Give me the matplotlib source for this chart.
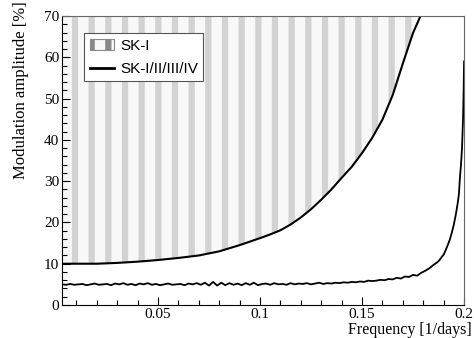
import numpy as np
import matplotlib
matplotlib.use('Agg')
import matplotlib.pyplot as plt
from matplotlib.patches import Patch
from matplotlib.lines import Line2D
from matplotlib.ticker import MultipleLocator, FixedLocator

# SK-I exclusion curve (region above is excluded)
ski_freq = [0.003, 0.01, 0.02, 0.03, 0.04, 0.05, 0.06, 0.07, 0.08, 0.09,
            0.10, 0.105, 0.11, 0.115, 0.12, 0.125, 0.13, 0.135, 0.14, 0.145,
            0.15, 0.155, 0.16, 0.165, 0.17, 0.175, 0.18]
ski_amp = [10.0, 10.0, 10.0, 10.2, 10.5, 10.9, 11.4, 12.0, 13.0, 14.5,
           16.2, 17.1, 18.1, 19.5, 21.2, 23.2, 25.5, 28.0, 30.8, 33.5,
           36.8, 40.5, 44.9, 50.8, 58.5, 65.9, 71.5]

# SK-I/II/III/IV, flat noisy part sampled every 0.002 from 0.003 to 0.185
all_amp_flat = [5.0, 4.9, 5.1, 4.9, 5.0, 5.1, 4.8, 5.0, 5.2, 4.9,
                5.0, 5.1, 4.8, 5.2, 5.0, 5.3, 4.9, 5.1, 4.8, 5.2,
                5.0, 5.3, 4.9, 5.1, 4.8, 5.0, 5.2, 4.9, 5.0, 5.1,
                4.8, 5.2, 5.0, 5.3, 4.9, 5.4, 4.7, 5.6, 4.7, 5.4,
                4.8, 5.3, 4.9, 5.2, 4.8, 5.3, 4.9, 5.4, 4.8, 5.1,
                5.2, 4.9, 5.3, 5.0, 5.1, 4.9, 5.3, 5.0, 5.2, 5.1,
                5.3, 5.0, 5.2, 5.4, 5.1, 5.3, 5.2, 5.4, 5.3, 5.5,
                5.4, 5.6, 5.5, 5.7, 5.6, 5.9, 5.8, 5.9, 6.1, 6.0,
                6.3, 6.2, 6.6, 6.4, 6.9, 6.8, 7.3, 7.1, 7.8, 8.3,
                8.9, 9.7]
all_freq_flat = np.linspace(0.003, 0.185, len(all_amp_flat))

# steep rise near 0.2 1/day
all_freq_tail = [0.187, 0.188, 0.189, 0.190, 0.191, 0.192, 0.193, 0.194,
                 0.195, 0.196, 0.197, 0.1975, 0.198, 0.1985, 0.199, 0.1995,
                 0.1998, 0.2]
all_amp_tail = [10.4, 10.9, 11.6, 12.2, 13.3, 14.5, 15.8, 17.5,
                19.5, 22.0, 25.0, 27.0, 31.0, 34.0, 38.0, 45.0,
                52.0, 59.0]

all_freq = np.concatenate([all_freq_flat, all_freq_tail])
all_amp = np.concatenate([all_amp_flat, all_amp_tail])

plt.rcParams['font.family'] = 'Liberation Serif'
plt.rcParams['hatch.linewidth'] = 4.5

fig = plt.figure(figsize=(4.74, 3.38), dpi=100)
ax = fig.add_axes([0.131, 0.0976, 0.848, 0.855])

hatch_col = '#d2d2d2'
ax.fill_between(ski_freq, ski_amp, 80, facecolor='#f8f8f8', edgecolor=hatch_col,
                hatch='|', linewidth=0)
ax.plot(ski_freq, ski_amp, color='black', lw=1.5)
ax.plot(all_freq, all_amp, color='black', lw=1.3)

ax.set_xlim(0.003, 0.2)
ax.set_ylim(0, 70)
ax.xaxis.set_major_locator(FixedLocator([0.05, 0.1, 0.15, 0.2]))
ax.set_xticklabels(['0.05', '0.1', '0.15', '0.2'])
ax.xaxis.set_minor_locator(MultipleLocator(0.01))
ax.yaxis.set_major_locator(MultipleLocator(10))
ax.yaxis.set_minor_locator(MultipleLocator(2))
ax.tick_params(which='both', direction='in', top=False, right=False,
               labelsize=11, width=0.8)
ax.tick_params(which='major', length=6, pad=2)
ax.tick_params(which='minor', length=3.5)
for s in ax.spines.values():
    s.set_linewidth(0.8)
ax.spines['top'].set_color('#666666')
ax.spines['right'].set_color('#666666')

fig.text(0.995, 0.0, 'Frequency [1/days]', ha='right', va='bottom', fontsize=11.5)
fig.text(0.045, 0.995, 'Modulation amplitude [%]', rotation=90,
         ha='center', va='top', fontsize=12)

handles = [Patch(facecolor='#f8f8f8', edgecolor='#888888', hatch='|', lw=0.8),
           Line2D([], [], color='black', lw=2)]
leg = ax.legend(handles, ['SK-I', 'SK-I/II/III/IV'], loc='upper left',
                bbox_to_anchor=(0.055, 0.94), fancybox=False, framealpha=1,
                edgecolor='#555555', prop={'family': 'Liberation Sans', 'size': 11},
                handlelength=1.6, handletextpad=0.4, borderpad=0.35,
                labelspacing=0.6, borderaxespad=0)
leg.get_frame().set_linewidth(0.8)

fig.savefig('out.png', dpi=100)
